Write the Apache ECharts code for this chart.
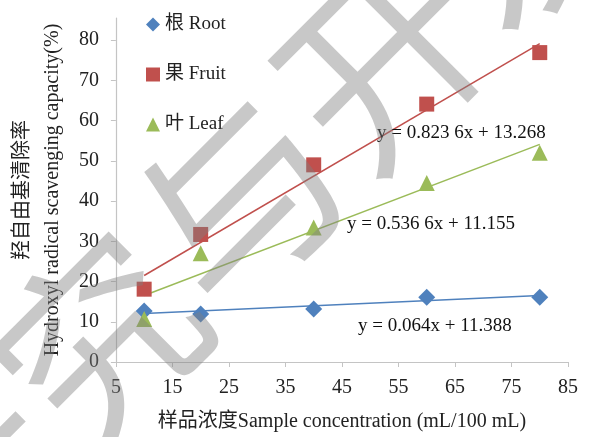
<!DOCTYPE html>
<html>
<head>
<meta charset="utf-8">
<script src="https://cdn.jsdelivr.net/npm/echarts@6/dist/echarts.min.js"></script>
<style>
  html, body { margin: 0; padding: 0; background: #fff; }
  #chart { width: 596px; height: 437px; }
</style>
</head>
<body>
<div id="chart"></div>
<script>
// Sample concentrations (mL/100 mL)
const concentrations = [10, 20, 40, 60, 80];
// Hydroxyl radical scavenging capacity (%)
const rootValues  = [12.7, 11.9, 13.2, 16.1, 16.1];
const fruitValues = [18.1, 31.7, 49.0, 64.1, 76.9];
const leafValues  = [10.7, 27.0, 33.4, 44.5, 52.0];

const seriesNames = ['根 Root', '果 Fruit', '叶 Leaf'];
// Linear fits: [slope, intercept]
const rootFit  = [0.064, 11.388];
const fruitFit = [0.8236, 13.268];
const leafFit  = [0.5366, 11.155];
const fitLabels = ['y = 0.064x + 11.388', 'y = 0.823 6x + 13.268', 'y = 0.536 6x + 11.155'];

const xTicks = [5, 15, 25, 35, 45, 55, 65, 75, 85];
const yTicks = [0, 10, 20, 30, 40, 50, 60, 70, 80];

const colors = { root: '#4f81bd', fruit: '#c0504d', leaf: '#9bbb59' };
const serif = '"Liberation Serif", "Times New Roman", "Noto Sans CJK SC", serif';

function pairs(values) {
  return concentrations.map((x, i) => [x, values[i]]);
}
function fitLine(fit) {
  const x0 = concentrations[0], x1 = concentrations[concentrations.length - 1];
  return [[x0, fit[0] * x0 + fit[1]], [x1, fit[0] * x1 + fit[1]]];
}
function trend(fit, color) {
  return {
    type: 'line', data: fitLine(fit), symbol: 'none', silent: true,
    lineStyle: { color: color, width: 1.5 }, z: 2
  };
}
function points(name, values, symbol, size, color) {
  return {
    name: name, type: 'scatter', data: pairs(values), symbol: symbol,
    symbolSize: size, itemStyle: { color: color, opacity: 1 }, z: 3
  };
}

const chart = echarts.init(document.getElementById('chart'));
chart.setOption({
  animation: false,
  backgroundColor: '#ffffff',
  textStyle: { fontFamily: serif },
  grid: { left: 110, right: 28, top: 18, bottom: 73 },
  legend: {
    orient: 'vertical', left: 141, top: 10, itemGap: 31,
    itemWidth: 14, itemHeight: 14,
    data: [
      { name: seriesNames[0], icon: 'diamond' },
      { name: seriesNames[1], icon: 'rect' },
      { name: seriesNames[2], icon: 'triangle' }
    ],
    textStyle: { fontFamily: serif, fontSize: 19, color: '#222' }
  },
  xAxis: {
    type: 'value', min: 5, max: 85, interval: 10,
    name: '样品浓度Sample concentration (mL/100 mL)',
    nameLocation: 'middle', nameGap: 50,
    nameTextStyle: { fontFamily: serif, fontSize: 20, color: '#222' },
    axisLine: { lineStyle: { color: '#c4c4c4', width: 1.2 } },
    axisTick: { show: true, length: 5, lineStyle: { color: '#c4c4c4' } },
    axisLabel: { customValues: xTicks, fontSize: 20, color: '#222', margin: 16, fontFamily: serif },
    splitLine: { show: false }
  },
  yAxis: {
    type: 'value', min: 0, max: 85.5,
    name: '羟自由基清除率\nHydroxyl radical scavenging capacity(%)',
    nameLocation: 'middle', nameGap: 43, nameRotate: 90,
    nameTextStyle: { fontFamily: serif, fontSize: 20, color: '#222', lineHeight: 30 },
    axisLine: { show: true, lineStyle: { color: '#c4c4c4', width: 1.2 } },
    axisTick: { show: true, length: 5, customValues: yTicks, lineStyle: { color: '#c4c4c4' } },
    axisLabel: { customValues: yTicks, fontSize: 20, color: '#222', margin: 17, fontFamily: serif },
    splitLine: { show: false }
  },
  series: [
    trend(rootFit, colors.root),
    trend(fruitFit, colors.fruit),
    trend(leafFit, colors.leaf),
    points(seriesNames[0], rootValues, 'diamond', 17, colors.root),
    points(seriesNames[1], fruitValues, 'rect', 15, colors.fruit),
    points(seriesNames[2], leafValues, 'triangle', 16, colors.leaf)
  ],
  graphic: [
    { type: 'text', left: 358, top: 317, z: 10,
      style: { text: fitLabels[0], font: '19px ' + serif, fill: '#111' } },
    { type: 'text', left: 377, top: 124, z: 10,
      style: { text: fitLabels[1], font: '19px ' + serif, fill: '#111' } },
    { type: 'text', left: 347, top: 215, z: 10,
      style: { text: fitLabels[2], font: '19px ' + serif, fill: '#111' } },
    // faint publisher mark across the plot
    { type: 'text', x: 240, y: 200, rotation: 0.785, z: 20, silent: true,
      style: { text: '研究与开发', font: '200px "Noto Sans CJK SC"', fill: 'rgba(128,128,128,0.43)',
               align: 'center', verticalAlign: 'middle' } }
  ]
});
</script>
</body>
</html>
